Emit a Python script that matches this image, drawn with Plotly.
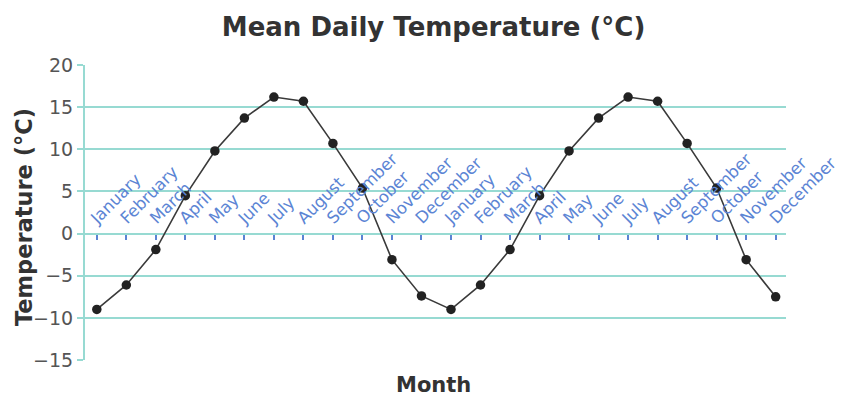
import plotly.graph_objects as go

months = ["January", "February", "March", "April", "May", "June", "July",
          "August", "September", "October", "November", "December"] * 2
temps = [-9.0, -6.1, -1.9, 4.5, 9.8, 13.7, 16.2, 15.7, 10.7, 5.4, -3.1, -7.4,
         -9.0, -6.1, -1.9, 4.5, 9.8, 13.7, 16.2, 15.7, 10.7, 5.4, -3.1, -7.5]
y_ticks = [-15, -10, -5, 0, 5, 10, 15, 20]

x_idx = list(range(len(months)))
FONT = "DejaVu Sans"
GRID = "#97dad2"
PLOT_W, PLOT_H = 841 - 85 - 55, 397 - 65 - 37

fig = go.Figure()
fig.add_trace(go.Scatter(
    x=x_idx, y=temps, mode="lines+markers",
    line=dict(color="#3a3a3a", width=1.6),
    marker=dict(color="#222222", size=9.5),
    showlegend=False, hoverinfo="skip"))

fig.update_layout(
    width=841, height=397,
    margin=dict(l=85, r=55, t=65, b=37, autoexpand=False),
    paper_bgcolor="white", plot_bgcolor="white",
    title=dict(text="<b>Mean Daily Temperature (°C)</b>", x=0.5155, xanchor="center",
               y=1 - 27 / 397, yanchor="middle",
               font=dict(family=FONT, size=26, color="#333333")),
    xaxis=dict(
        range=[-0.4, 23.35], tickmode="array", tickvals=x_idx, ticktext=months,
        side="top", anchor="free", position=15 / 35, automargin=False,
        tickangle=-45, ticks="inside", ticklen=5, tickwidth=1.5, tickcolor="#5b84d4",
        ticklabelshift=-5, ticklabelstandoff=3, ticklabeloverflow="allow",
        tickfont=dict(family=FONT, size=16.5, color="#5b84d4"),
        showgrid=False, showline=False, zeroline=False),
    yaxis=dict(
        range=[-15, 20], tickvals=y_ticks, showgrid=True, gridcolor=GRID, gridwidth=2,
        zeroline=False, showline=True, linecolor=GRID, linewidth=2, automargin=False,
        ticks="outside", ticklen=6, tickwidth=2, tickcolor=GRID,
        tickfont=dict(family=FONT, size=19, color="#555555")),
)

fig.add_annotation(text="<b>Temperature (°C)</b>", xref="paper", yref="paper",
                   x=(24 - 85) / PLOT_W, y=(360 - 217) / PLOT_H, textangle=-90,
                   xanchor="center", yanchor="middle", showarrow=False,
                   font=dict(family=FONT, size=22.5, color="#333333"))
fig.add_annotation(text="<b>Month</b>", xref="paper", yref="paper",
                   x=(433 - 85) / PLOT_W, y=-25 / PLOT_H, xanchor="center", yanchor="middle",
                   showarrow=False, font=dict(family=FONT, size=21, color="#333333"))

fig.write_html("out.html", config={"displayModeBar": False},
               post_script="document.body.style.margin='0';")
